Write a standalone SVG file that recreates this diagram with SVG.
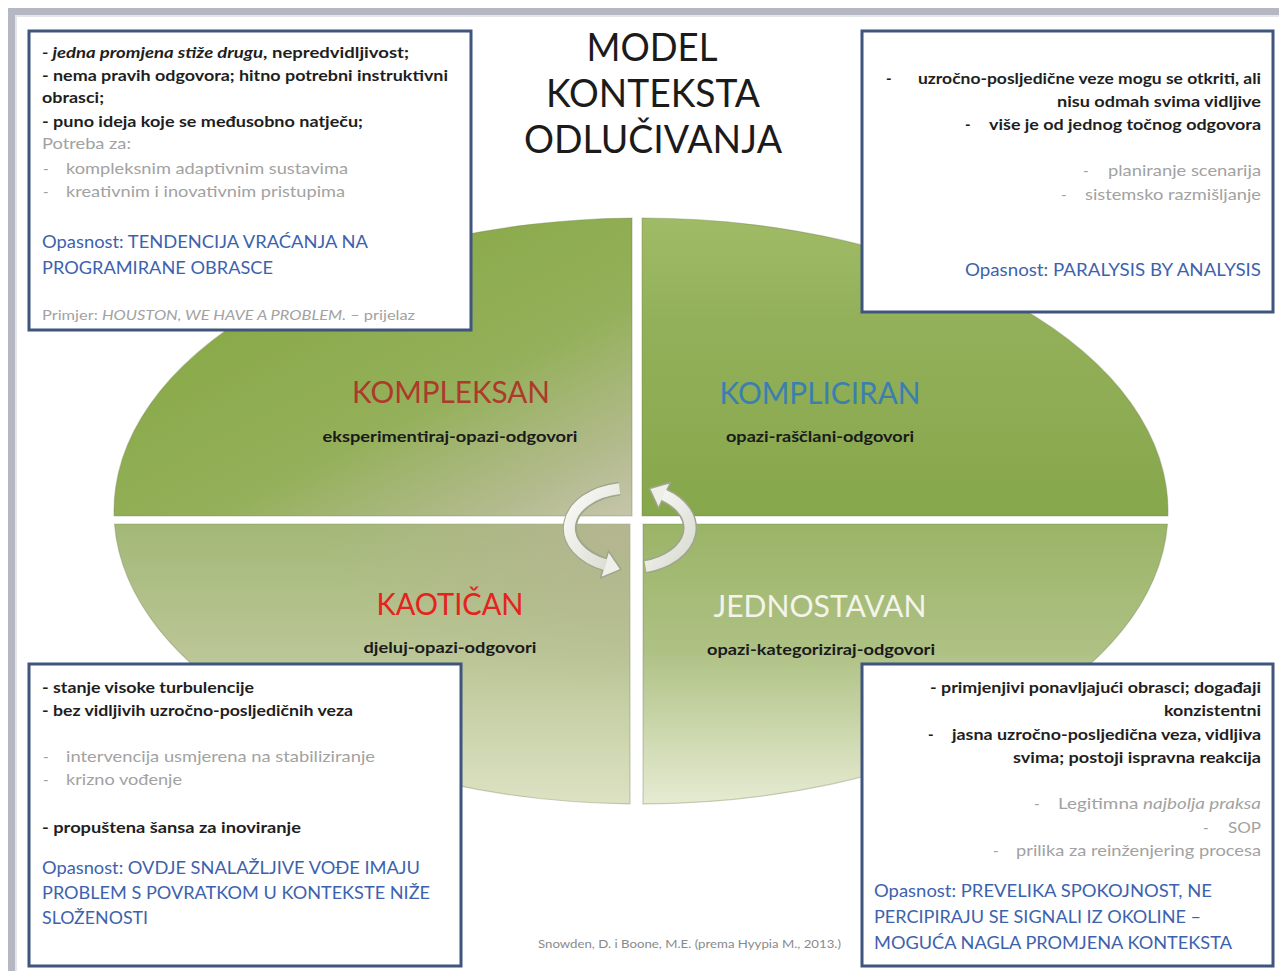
<svg xmlns="http://www.w3.org/2000/svg" width="1279" height="971" viewBox="0 0 1279 971">
<defs>
<style>
text{font-family:Lato,"Liberation Sans",sans-serif}
.t{font-size:38px;fill:#1b1b1b;text-anchor:middle}
.b{font-size:15px;font-weight:bold;fill:#1e1e1e}
.g{font-size:15px;fill:#a2a2a2}
.bl{font-size:17px;fill:#3d62ad}
.sm{font-size:13px;fill:#a2a2a2}
.ql{font-size:30px;text-anchor:middle}
.qs{font-size:15px;font-weight:bold;fill:#1a1a1a;text-anchor:middle}
.r{text-anchor:end}
.box{fill:#ffffff;stroke:#3f557e;stroke-width:3}
.quad{stroke:#6f7f4c;stroke-opacity:0.35;stroke-width:1.2}
.cit{font-size:11px;fill:#8a8a8a}
</style>
<linearGradient id="gTL" x1="0.2" y1="0.1" x2="1" y2="1">
<stop offset="0" stop-color="#85a742"/>
<stop offset="0.55" stop-color="#94b05a"/>
<stop offset="0.85" stop-color="#b4bb8f"/>
<stop offset="1" stop-color="#c6c6ab"/>
</linearGradient>
<linearGradient id="gTR" x1="0" y1="0" x2="0" y2="1">
<stop offset="0" stop-color="#a0bb66"/>
<stop offset="0.35" stop-color="#92b059"/>
<stop offset="1" stop-color="#87a74c"/>
</linearGradient>
<linearGradient id="gBL" x1="0" y1="0" x2="0" y2="1">
<stop offset="0" stop-color="#a3b877"/>
<stop offset="0.5" stop-color="#bcc798"/>
<stop offset="1" stop-color="#dde2c3"/>
</linearGradient>
<radialGradient id="gBLx" cx="1" cy="0" r="0.6">
<stop offset="0" stop-color="#b9b597" stop-opacity="0.8"/>
<stop offset="1" stop-color="#b9b597" stop-opacity="0"/>
</radialGradient>
<linearGradient id="gBR" x1="0" y1="0" x2="0" y2="1">
<stop offset="0" stop-color="#9ab467"/>
<stop offset="0.45" stop-color="#aec184"/>
<stop offset="1" stop-color="#e6ebd2"/>
</linearGradient>
<linearGradient id="gArr" x1="0" y1="0" x2="1" y2="1">
<stop offset="0" stop-color="#fbfbf8"/>
<stop offset="1" stop-color="#d8dbd0"/>
</linearGradient>
</defs>

<rect x="0" y="0" width="1279" height="971" fill="#ffffff"/>
<g id="frame">
<rect x="8" y="8" width="1271" height="7" fill="#b5b8c2"/>
<rect x="8" y="8" width="7" height="963" fill="#b5b8c2"/>
<rect x="15" y="15" width="1264" height="2" fill="#e4e6ea"/>
<rect x="15" y="15" width="2" height="956" fill="#e4e6ea"/>
</g>

<g id="title">
<text class="t" x="652" y="61" textLength="131" lengthAdjust="spacingAndGlyphs">MODEL</text>
<text class="t" x="653" y="107" textLength="214" lengthAdjust="spacingAndGlyphs">KONTEKSTA</text>
<text class="t" x="653" y="153" textLength="258" lengthAdjust="spacingAndGlyphs">ODLUČIVANJA</text>
</g>

<g id="q-kompleksan">
<path class="quad" d="M632,516 L114.1,516 A527,293 0 0 1 632,218 Z" fill="url(#gTL)"/>
<text class="ql" x="451" y="403" fill="#ad3a2b" textLength="198" lengthAdjust="spacingAndGlyphs">KOMPLEKSAN</text>
<text class="qs" x="450" y="442" textLength="255" lengthAdjust="spacingAndGlyphs">eksperimentiraj-opazi-odgovori</text>
</g>
<g id="q-kompliciran">
<path class="quad" d="M642,516 L642,218 A527,293 0 0 1 1167.9,516 Z" fill="url(#gTR)"/>
<text class="ql" x="820" y="404" fill="#3b7fb0" textLength="201" lengthAdjust="spacingAndGlyphs">KOMPLICIRAN</text>
<text class="qs" x="820" y="442" textLength="188" lengthAdjust="spacingAndGlyphs">opazi-raščlani-odgovori</text>
</g>
<g id="q-kaotican">
<path class="quad" d="M630,524 L630,803.9 A527,293 0 0 1 114.5,524 Z" fill="url(#gBL)"/>
<path d="M630,524 L630,803.9 A527,293 0 0 1 114.5,524 Z" fill="url(#gBLx)"/>
<text class="ql" x="450" y="615" fill="#e5231d" textLength="147" lengthAdjust="spacingAndGlyphs">KAOTIČAN</text>
<text class="qs" x="450" y="653" textLength="173" lengthAdjust="spacingAndGlyphs">djeluj-opazi-odgovori</text>
</g>
<g id="q-jednostavan">
<path class="quad" d="M643,524 L1167.5,524 A527,293 0 0 1 643,803.9 Z" fill="url(#gBR)"/>
<text class="ql" x="820" y="617" fill="#f4f4ea" textLength="213" lengthAdjust="spacingAndGlyphs">JEDNOSTAVAN</text>
<text class="qs" x="821" y="655" textLength="228" lengthAdjust="spacingAndGlyphs">opazi-kategoriziraj-odgovori</text>
</g>

<g id="connectors">
<path d="M619.6,488.6 A60,40 0 0 0 604.6,564.3" fill="none" stroke="#9ea68c" stroke-width="14"/>
<path d="M645.5,566.6 A60,40 0 0 0 664.4,495.2" fill="none" stroke="#9ea68c" stroke-width="14"/>
<polygon points="600.5,578 608.5,551 621,569.5" fill="#eeefe9" stroke="#9ea68c" stroke-width="1.5"/>
<polygon points="670.5,482.5 658.5,508 649.5,488.5" fill="#eeefe9" stroke="#9ea68c" stroke-width="1.5"/>
<path d="M619.6,488.6 A60,40 0 0 0 605.6,564.8" fill="none" stroke="url(#gArr)" stroke-width="11"/>
<path d="M645.5,566.6 A60,40 0 0 0 663.4,494.7" fill="none" stroke="url(#gArr)" stroke-width="11"/>
</g>

<g id="box-tl">
<rect class="box" x="29" y="31" width="442" height="299"/>
<text class="b" x="42" y="58" textLength="367" lengthAdjust="spacingAndGlyphs"><tspan font-style="italic">- jedna promjena stiže drugu</tspan>, nepredvidljivost;</text>
<text class="b" x="42" y="81" textLength="406" lengthAdjust="spacingAndGlyphs">- nema pravih odgovora; hitno potrebni instruktivni</text>
<text class="b" x="42" y="103" textLength="62" lengthAdjust="spacingAndGlyphs">obrasci;</text>
<text class="b" x="42" y="127" textLength="321" lengthAdjust="spacingAndGlyphs">- puno ideja koje se međusobno natječu;</text>
<text class="g" x="42" y="149" textLength="89" lengthAdjust="spacingAndGlyphs">Potreba za:</text>
<text class="g" x="43" y="174">-</text>
<text class="g" x="66" y="174" textLength="282" lengthAdjust="spacingAndGlyphs">kompleksnim adaptivnim sustavima</text>
<text class="g" x="43" y="197">-</text>
<text class="g" x="66" y="197" textLength="279" lengthAdjust="spacingAndGlyphs">kreativnim i inovativnim pristupima</text>
<text class="bl" x="42" y="248" textLength="326" lengthAdjust="spacingAndGlyphs">Opasnost: TENDENCIJA VRAĆANJA NA</text>
<text class="bl" x="42" y="274" textLength="231" lengthAdjust="spacingAndGlyphs">PROGRAMIRANE OBRASCE</text>
<text class="sm" x="42" y="320" textLength="373" lengthAdjust="spacingAndGlyphs">Primjer: <tspan font-style="italic">HOUSTON, WE HAVE A PROBLEM.</tspan> – prijelaz</text>
</g>

<g id="box-tr">
<rect class="box" x="862" y="31" width="411" height="281"/>
<text class="b" x="886" y="84">-</text>
<text class="b r" x="1261" y="84" textLength="343" lengthAdjust="spacingAndGlyphs">uzročno-posljedične veze mogu se otkriti, ali</text>
<text class="b r" x="1261" y="107" textLength="204" lengthAdjust="spacingAndGlyphs">nisu odmah svima vidljive</text>
<text class="b" x="965" y="130">-</text>
<text class="b r" x="1261" y="130" textLength="272" lengthAdjust="spacingAndGlyphs">više je od jednog točnog odgovora</text>
<text class="g" x="1083" y="176">-</text>
<text class="g r" x="1261" y="176" textLength="153" lengthAdjust="spacingAndGlyphs">planiranje scenarija</text>
<text class="g" x="1061" y="200">-</text>
<text class="g r" x="1261" y="200" textLength="176" lengthAdjust="spacingAndGlyphs">sistemsko razmišljanje</text>
<text class="bl r" x="1261" y="276" textLength="296" lengthAdjust="spacingAndGlyphs">Opasnost: PARALYSIS BY ANALYSIS</text>
</g>

<g id="box-bl">
<rect class="box" x="29" y="664" width="432" height="302"/>
<text class="b" x="42" y="693" textLength="212" lengthAdjust="spacingAndGlyphs">- stanje visoke turbulencije</text>
<text class="b" x="42" y="716" textLength="311" lengthAdjust="spacingAndGlyphs">- bez vidljivih uzročno-posljedičnih veza</text>
<text class="g" x="43" y="762">-</text>
<text class="g" x="66" y="762" textLength="309" lengthAdjust="spacingAndGlyphs">intervencija usmjerena na stabiliziranje</text>
<text class="g" x="43" y="785">-</text>
<text class="g" x="66" y="785" textLength="116" lengthAdjust="spacingAndGlyphs">krizno vođenje</text>
<text class="b" x="42" y="833" textLength="259" lengthAdjust="spacingAndGlyphs">- propuštena šansa  za inoviranje</text>
<text class="bl" x="42" y="874" textLength="378" lengthAdjust="spacingAndGlyphs">Opasnost: OVDJE SNALAŽLJIVE VOĐE IMAJU</text>
<text class="bl" x="42" y="899" textLength="388" lengthAdjust="spacingAndGlyphs">PROBLEM S POVRATKOM U KONTEKSTE NIŽE</text>
<text class="bl" x="42" y="924" textLength="106" lengthAdjust="spacingAndGlyphs">SLOŽENOSTI</text>
</g>

<g id="box-br">
<rect class="box" x="862" y="664" width="411" height="302"/>
<text class="b r" x="1261" y="693" textLength="331" lengthAdjust="spacingAndGlyphs">- primjenjivi ponavljajući obrasci; događaji</text>
<text class="b r" x="1261" y="716" textLength="97" lengthAdjust="spacingAndGlyphs">konzistentni</text>
<text class="b" x="928" y="740">-</text>
<text class="b r" x="1261" y="740" textLength="309" lengthAdjust="spacingAndGlyphs">jasna uzročno-posljedična veza, vidljiva</text>
<text class="b r" x="1261" y="763" textLength="248" lengthAdjust="spacingAndGlyphs">svima; postoji ispravna reakcija</text>
<text class="g" x="1034" y="809">-</text>
<text class="g r" x="1261" y="809" textLength="203" lengthAdjust="spacingAndGlyphs">Legitimna <tspan font-style="italic">najbolja praksa</tspan></text>
<text class="g" x="1203" y="833">-</text>
<text class="g r" x="1261" y="833" textLength="33" lengthAdjust="spacingAndGlyphs">SOP</text>
<text class="g" x="993" y="856">-</text>
<text class="g r" x="1261" y="856" textLength="245" lengthAdjust="spacingAndGlyphs">prilika za reinženjering procesa</text>
<text class="bl" x="874" y="897" textLength="338" lengthAdjust="spacingAndGlyphs">Opasnost: PREVELIKA SPOKOJNOST, NE</text>
<text class="bl" x="874" y="923" textLength="327" lengthAdjust="spacingAndGlyphs">PERCIPIRAJU SE SIGNALI IZ OKOLINE –</text>
<text class="bl" x="874" y="949" textLength="358" lengthAdjust="spacingAndGlyphs">MOGUĆA NAGLA PROMJENA KONTEKSTA</text>
</g>

<g id="citation">
<text class="cit" x="538" y="948" textLength="303" lengthAdjust="spacingAndGlyphs">Snowden, D. i Boone, M.E. (prema Hyypia M., 2013.)</text>
</g>
</svg>
